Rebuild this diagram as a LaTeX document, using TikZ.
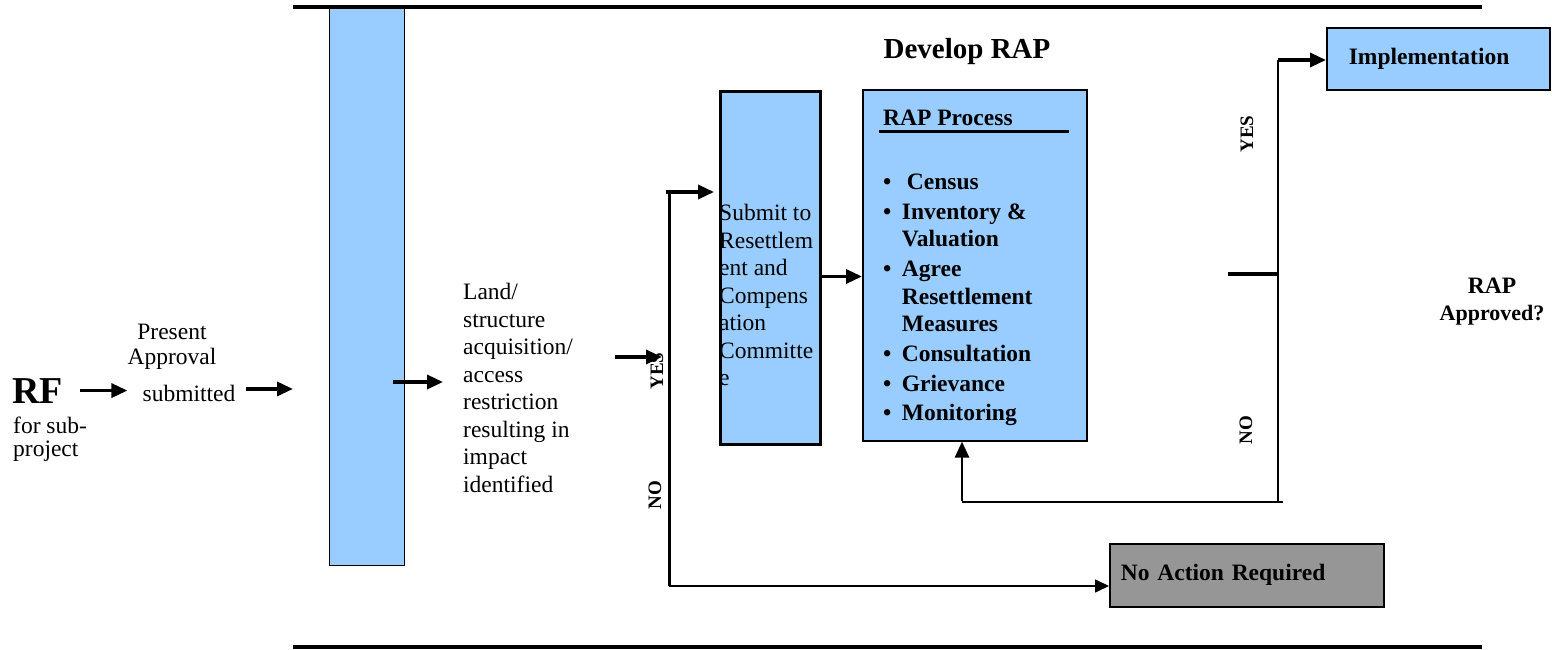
\documentclass[tikz,border=0pt]{standalone}
\usepackage{fontspec}
\setmainfont{Liberation Serif}
\usetikzlibrary{arrows.meta,positioning}
\definecolor{rapblue}{HTML}{99CCFF}
\definecolor{rapgrey}{HTML}{969696}
\newcommand{\rapfont}{\fontsize{23.5}{27.5}\selectfont}

\begin{document}
\begin{tikzpicture}[x=1pt,y=-1pt,
  arr/.style={-{Triangle[length=16pt,width=14pt]},line width=3.3pt},
  thinarr/.style={-{Triangle[length=14pt,width=13pt]},line width=1.6pt},
  bluebox/.style={draw,fill=rapblue,line width=1.3pt,inner sep=0pt},
  plain/.style={inner sep=0pt,font=\rapfont},
  yn/.style={rotate=90,inner sep=0pt,font=\bfseries\fontsize{19}{19}\selectfont}]
\useasboundingbox (0,0) rectangle (1552,650);

 	% boxes
 	\node[bluebox,anchor=north west,minimum width=75pt,minimum height=558pt] (screen) at (329,7) {};
 	\node[bluebox,anchor=north west,minimum width=100pt,minimum height=353pt,line width=3pt] (submit) at (719,90) {};
 	\node[bluebox,anchor=north west,minimum width=224pt,minimum height=351pt,line width=1.6pt] (rap) at (862,89) {};
 	\node[bluebox,anchor=north west,minimum height=62pt,text width=179pt,inner xsep=22pt,align=left,line width=1.6pt,font=\bfseries\rapfont] (impl) at (1326,27) {Implementation};
 	\node[draw,fill=rapgrey,anchor=north west,minimum height=63pt,text width=252pt,inner xsep=11pt,inner ysep=0pt,align=left,line width=1.6pt,font=\bfseries\rapfont] (noact) at (1109,543) {No Action Required};
 	\draw[line width=4.5pt] (293,7) -- (1482,7);
 	\draw[line width=4.5pt] (293,647) -- (1482,647);

 	% texts
 	\node[anchor=base west,inner sep=0pt,font=\bfseries\fontsize{38}{38}\selectfont] (rf) at (12,403) {RF};
 	\node[plain,anchor=north west,align=left,font=\fontsize{23.5}{22.5}\selectfont] (forsub) at (13,417) {for sub-\\project};
 	\node[plain,anchor=north,align=center,font=\fontsize{23.5}{25}\selectfont] (present) at (172,324) {Present\\Approval};
 	\node[plain,anchor=base] (submitted) at (189,401) {submitted};
 	\node[plain,anchor=north west,align=left] (land) at (463,283) {Land/\\structure\\acquisition/\\access\\restriction\\resulting in\\impact\\identified};
 	\node[plain,anchor=north west,align=left] (submittxt) at (719,204) {Submit to\\Resettlem\\ent and\\Compens\\ation\\Committe\\e};
 	\node[anchor=base,inner sep=0pt,font=\bfseries\fontsize{29}{29}\selectfont] (develop) at (967,59) {Develop RAP};
 	\node[plain,anchor=base west,font=\bfseries\rapfont] (raptitle) at (883,125) {RAP Process};
 	\draw[line width=3pt] ([shift={(-4pt,-7pt)}]raptitle.base west) -- +(190,0);
 	\node[plain,anchor=north west,font=\bfseries\rapfont] (steps) at (883,170) {%
 	  \begin{tabular}{@{}l@{\hspace{10.5pt}}l@{}}
 	    \textbullet & \hspace{5pt}Census\\[2.5pt]
 	    \textbullet & Inventory \&\\ & Valuation\\[2.5pt]
 	    \textbullet & Agree\\ & Resettlement\\ & Measures\\[2.5pt]
 	    \textbullet & Consultation\\[2pt]
 	    \textbullet & Grievance\\[2pt]
 	    \textbullet & Monitoring
 	  \end{tabular}};
 	\node[anchor=base,inner sep=0pt,font=\bfseries\rapfont] (raplbl) at (1492,293) {RAP};
 	\node[anchor=base,inner sep=0pt,font=\bfseries\fontsize{22}{22}\selectfont] (approved) at (1492,320) {Approved?};
 	\node[yn] (yes1) at (657,371) {YES};
 	\node[yn] (no1) at (655,495) {NO};
 	\node[yn] (yes2) at (1247,134) {YES};
 	\node[yn] (no2) at (1246,430) {NO};

 	% connectors
 	\coordinate (split) at (669,192);
 	\coordinate (splitend) at (669,586);
 	\coordinate (decide) at (1278,60);
 	\coordinate (back) at (1283,502);
 	\coordinate (loop) at (962,502);
 	\draw[arr] ([xshift=17pt]rf.east) -- (rf.east -| present.west);
 	\draw[arr] ([xshift=10pt,yshift=4pt]submitted.east) -- ([xshift=-36pt,yshift=4pt]submitted.east -| screen.west);
 	\draw[arr,shorten >=20pt] (393,382) -- (393,382 -| land.west);
 	\draw[arr] (615,357) -- (662,357);
 	\draw[line width=3pt] (split) -- (splitend);
 	\draw[arr,shorten >=5pt] ([xshift=-3pt]split) -- (split -| submit.west);
 	\draw[thinarr] (splitend) -- (splitend -| noact.west);
 	\draw[arr] ([yshift=-8.5pt]submit.east) -- ([yshift=-8.5pt]submit.east -| rap.west);
 	\draw[line width=2pt] (decide) -- (decide |- back);
 	\draw[arr] (decide) -- (decide -| impl.west);
 	\draw[line width=3.5pt] (1228,274) -- (1279,274);
 	\draw[line width=2pt] (back) -- (loop);
 	\draw[arr,line width=2.8pt] ([yshift=1pt]loop) -- (loop |- rap.south);
\end{tikzpicture}
\end{document}
